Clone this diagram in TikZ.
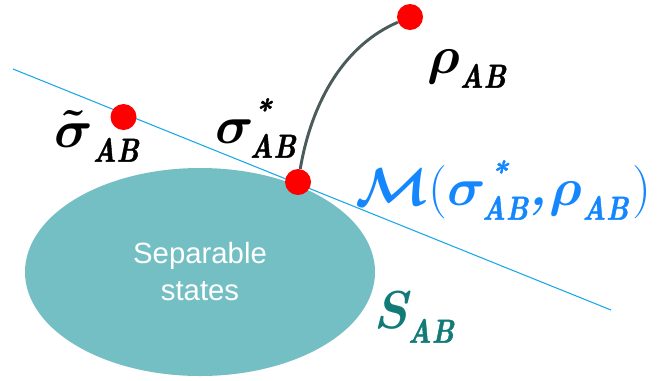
\RequirePackage{fix-cm}
\documentclass[tikz,border=0pt]{standalone}
\usepackage{amsmath}
\usepackage{graphicx}
\usepackage{fontspec}
\setsansfont{Liberation Sans}
\newfontfamily\abfont{lmroman10-bolditalic}[Extension=.otf, FakeBold=1.6]
\usetikzlibrary{shapes.geometric}
\definecolor{sepfill}{RGB}{116,191,195}
\definecolor{planeblue}{RGB}{27,168,230}
\definecolor{pathgray}{RGB}{75,90,90}
\definecolor{labelblue}{RGB}{20,135,255}
\definecolor{labelteal}{RGB}{18,123,120}
\newcommand{\subAB}{\raisebox{-11pt}{\abfont\fontsize{25}{25}\selectfont\scalebox{0.82}[1]{AB}}}
\newcommand{\starAB}[1]{\raisebox{-11pt}{\abfont\fontsize{25}{25}\selectfont\rlap{\hspace{#1}\raisebox{28pt}{\fontsize{22}{22}\selectfont *}}\scalebox{0.82}[1]{AB}}}
\newcommand{\bsym}[1]{$\boldsymbol{#1}$}
\tikzset{
    sepset/.style={
        ellipse,
        fill=sepfill,
        minimum width=262.5pt,
        minimum height=156pt,
        inner sep=0pt,
        text=white,
        align=center,
        font=\sffamily\fontsize{22}{27.75}\selectfont
    },
    statedot/.style={
        circle,
        fill=red,
        inner sep=0pt,
        minimum size=19.5pt
    },
    statelabel/.style={
        anchor=base west,
        inner sep=0pt,
        font=\bfseries\itshape\fontsize{40}{40}\selectfont
    },
    plane/.style={
        planeblue,
        line width=0.8pt
    },
    geodesic/.style={
        pathgray,
        line width=2.2pt
    }
}
\begin{document}
\begin{tikzpicture}[x=0.75pt,y=-0.75pt]
    \useasboundingbox (0,0) rectangle (670,380);

    % Set of separable states
    \node[sepset] (sep) at (200,272) {Separable\\states};

    % Tangent plane
    \coordinate (planeL) at (13,69);
    \coordinate (planeR) at (611,310);
    \draw[plane] (planeL) -- (planeR);

    % States
    \node[statedot] (sigtilde) at (123.5,117) {};
    \node[statedot] (sigstar) at (298,182) {};
    \node[statedot] (rho) at (410,17) {};
    \draw[geodesic] (sigstar) .. controls (312,100) and (345,45) .. (rho);

    % Labels
    \node[statelabel] (rholabel) at (427,73) {\bsym{\rho}\subAB};
    \node[statelabel] (sigtildelabel) at (54,147) {\bsym{\tilde{\sigma}}\subAB};
    \node[statelabel] (sigstarlabel) at (215,143) {\bsym{\sigma}\hspace{-3pt}\starAB{3pt}};
    \node[statelabel, text=labelblue] (mlabel) at (355,205)
        {\bsym{\mathcal{M}}{\mdseries\upshape(}\bsym{\sigma}\hspace{-3pt}\starAB{6pt},\hspace{2pt}\bsym{\rho}\subAB\hspace{3pt}{\mdseries\upshape)}};
    \node[statelabel, text=labelteal] (slabel) at (373,328) {S\subAB};
\end{tikzpicture}
\end{document}
